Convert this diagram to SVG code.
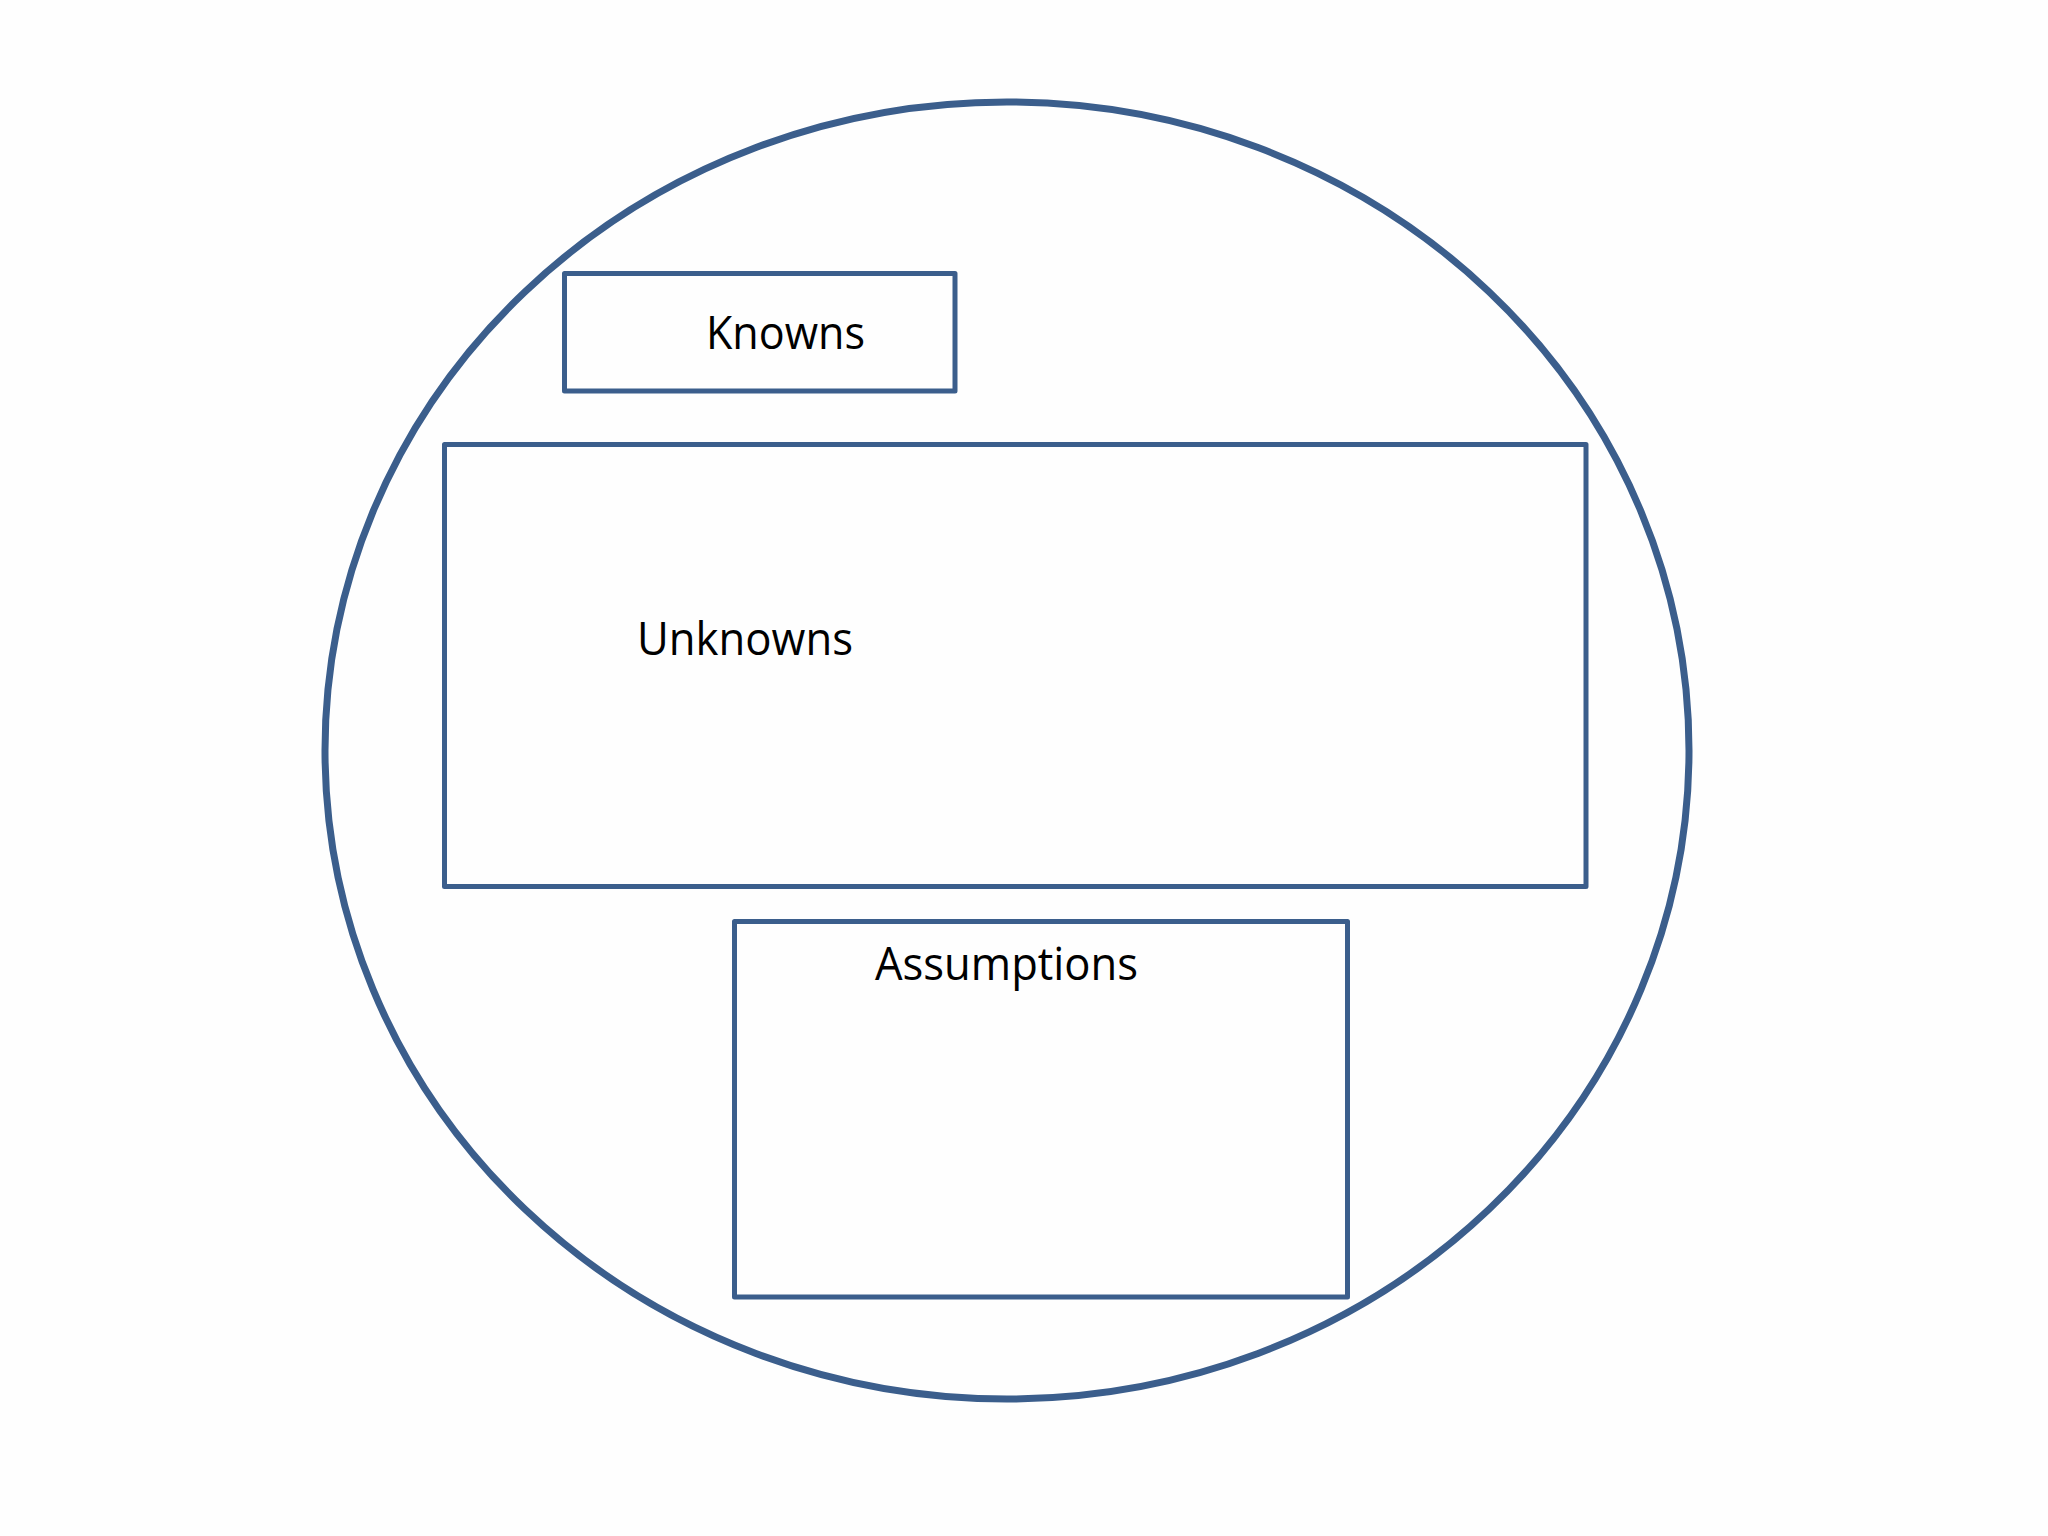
<svg xmlns="http://www.w3.org/2000/svg" width="2048" height="1536" viewBox="0 0 2048 1536">
<style>
.shape{fill:none;stroke:#3B5E8C;stroke-linejoin:round}
.box{stroke-width:5}
.lbl{font-family:"Open Sans","Liberation Sans",sans-serif;font-size:46px;fill:#000}
</style>
<rect width="2048" height="1536" fill="#FEFEFE"/>
<g id="scope">
<ellipse class="shape" cx="1007" cy="750.5" rx="682" ry="648.5" stroke-width="7"/>
</g>
<g id="knowns">
<rect class="shape box" x="564.5" y="273.5" width="390.5" height="117.5"/>
<text class="lbl" x="706" y="349" textLength="159" lengthAdjust="spacingAndGlyphs">Knowns</text>
</g>
<g id="unknowns">
<rect class="shape box" x="444.5" y="444.5" width="1141.5" height="442"/>
<text class="lbl" x="637" y="655" textLength="216" lengthAdjust="spacingAndGlyphs">Unknowns</text>
</g>
<g id="assumptions">
<rect class="shape box" x="734.5" y="921.5" width="613" height="375.5"/>
<text class="lbl" x="875" y="980" textLength="263" lengthAdjust="spacingAndGlyphs">Assumptions</text>
</g>
<g id="connectors"/>
</svg>
